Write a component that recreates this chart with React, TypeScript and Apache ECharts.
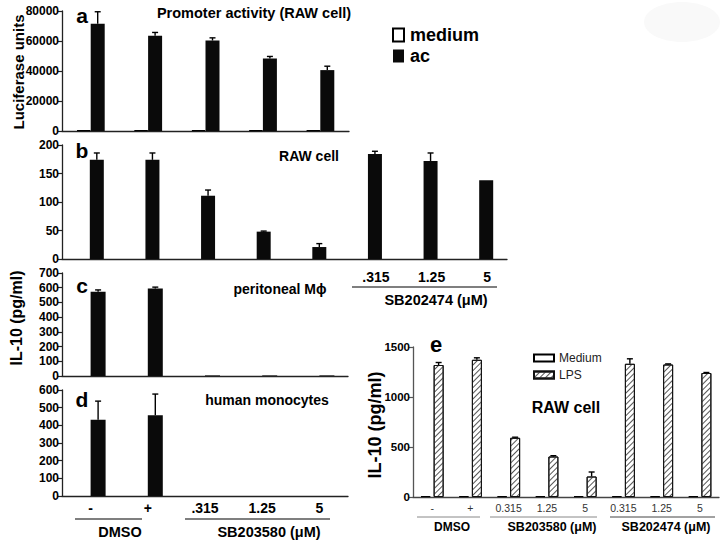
import React, { useEffect, useRef } from 'react';
import * as echarts from 'echarts';

const FONT = '"Liberation Sans", Arial, Helvetica, sans-serif';

// ---------- Panel a : promoter activity ----------
const aCategories = ['1', '2', '3', '4', '5'];
const aMedium = [600, 600, 600, 600, 600];
const aAc = [71500, 63500, 60300, 48400, 40600];
const aAcErr = [8000, 2200, 1800, 1300, 2600];

// ---------- Panel b : RAW cell ----------
const bCategories = ['', '', '', '', '', '.315', '1.25', '5'];
const bMedium = [0, 0, 0, 0, 0, 0, 0, 0];
const bAc = [174, 174, 111, 48, 21, 184, 172, 138];
const bAcErr = [12, 12, 10, 1, 6, 5, 14, 0];

// ---------- Panel c / d ----------
const cdCategories = ['-', '+', '.315', '1.25', '5'];
const cdMedium = [0, 0, 0, 0, 0];
const cAc = [573, 594, 4, 4, 4];
const cAcErr = [12, 10, 0, 0, 0];
const dAc = [432, 457, 0, 0, 0];
const dAcErr = [105, 120, 0, 0, 0];

// ---------- Panel e ----------
const eCategories = ['-', '+', '0.315', '1.25', '5', '0.315', '1.25', '5'];
const eMedium = [8, 8, 8, 8, 8, 8, 8, 8];
const eLps = [1320, 1372, 592, 405, 205, 1332, 1325, 1240];
const eLpsErr = [25, 20, 6, 8, 45, 50, 6, 5];

const txt = (text: string, x: number, y: number, font: string, extra: any = {}) => ({
  type: 'text',
  x,
  y,
  rotation: extra.rotation || 0,
  style: {
    text,
    font,
    fill: extra.fill || '#000',
    align: extra.align || 'center',
    verticalAlign: 'middle',
    textAlign: extra.align || 'center',
    textVerticalAlign: 'middle',
  },
  silent: true,
});

const hline = (x1: number, x2: number, y: number, color = '#000', w = 1.2) => ({
  type: 'line',
  shape: { x1, y1: y, x2, y2: y },
  style: { stroke: color, lineWidth: w },
  silent: true,
});

const errSeries = (xi: number, vals: number[], errs: number[], offset: number, cap: number) => ({
  type: 'custom',
  xAxisIndex: xi,
  yAxisIndex: xi,
  z: 5,
  data: vals.map((v, i) => [i, v, errs[i]]),
  encode: { x: 0, y: 1 },
  renderItem: (params: any, api: any) => {
    const i = api.value(0);
    const v = api.value(1);
    const e = api.value(2);
    if (!e) return null;
    const p0 = api.coord([i, v]);
    const p1 = api.coord([i, v + e]);
    const x = p0[0] + offset;
    return {
      type: 'group',
      children: [
        { type: 'line', shape: { x1: x, y1: p0[1], x2: x, y2: p1[1] }, style: { stroke: '#000', lineWidth: 1.4 } },
        { type: 'line', shape: { x1: x - cap, y1: p1[1], x2: x + cap, y2: p1[1] }, style: { stroke: '#000', lineWidth: 1.4 } },
      ],
    };
  },
});

const yAxisCfg = (gi: number, max: number, interval: number, fontSize: number, color = '#222') => ({
  type: 'value',
  gridIndex: gi,
  min: 0,
  max,
  interval,
  axisLine: { show: true, lineStyle: { color, width: 1.3 } },
  axisTick: { show: true, length: 4, lineStyle: { color, width: 1.2 } },
  splitLine: { show: false },
  axisLabel: {
    color: '#000',
    fontFamily: FONT,
    fontWeight: 'bold',
    fontSize,
    margin: 3,
    showMinLabel: true,
    showMaxLabel: true,
    formatter: (v: number) => String(v),
  },
});

const xAxisCfg = (gi: number, data: string[], label: any = { show: false }, color = '#222') => ({
  type: 'category',
  gridIndex: gi,
  data,
  axisLine: { show: true, lineStyle: { color, width: 1.3 } },
  axisTick: { show: false },
  splitLine: { show: false },
  axisLabel: label,
});

export default function App() {
  const ref = useRef<HTMLDivElement>(null);
  useEffect(() => {
    if (!ref.current) return;
    const chart = echarts.init(ref.current, null, { renderer: 'svg' });
    const black = { color: '#0a0a0a' };
    const whiteBox = { color: '#fff', borderColor: '#000', borderWidth: 1 };
    const hatch = {
      color: '#fff',
      borderColor: '#111',
      borderWidth: 1,
      decal: {
        symbol: 'rect',
        symbolSize: 1,
        dashArrayX: [[1, 0]],
        dashArrayY: [1, 3],
        rotation: -Math.PI / 4,
        color: '#555',
        backgroundColor: '#fff',
      },
    };
    const option: any = {
      animation: false,
      backgroundColor: '#fff',
      grid: [
        { left: 62, top: 11, width: 287, height: 120 },
        { left: 62, top: 145, width: 445, height: 114 },
        { left: 62, top: 273, width: 286, height: 103 },
        { left: 62, top: 390, width: 286, height: 106 },
        { left: 413, top: 347, width: 306, height: 150 },
      ],
      xAxis: [
        xAxisCfg(0, aCategories),
        xAxisCfg(1, bCategories, {
          show: true,
          interval: 0,
          color: '#000',
          fontFamily: FONT,
          fontWeight: 'bold',
          fontSize: 14,
          margin: 11,
          padding: [0, 0, 0, 16],
        }),
        xAxisCfg(2, cdCategories),
        xAxisCfg(3, cdCategories, {
          show: true,
          interval: 0,
          color: '#000',
          fontFamily: FONT,
          fontWeight: 'bold',
          fontSize: 14,
          margin: 5,
        }),
        xAxisCfg(4, eCategories, {
          show: true,
          interval: 0,
          color: '#333',
          fontFamily: FONT,
          fontSize: 10.5,
          margin: 5,
        }, '#444'),
      ],
      yAxis: [
        yAxisCfg(0, 80000, 20000, 12),
        yAxisCfg(1, 200, 50, 12),
        yAxisCfg(2, 700, 100, 12),
        yAxisCfg(3, 600, 100, 12),
        yAxisCfg(4, 1500, 500, 11.5, '#555'),
      ],
      legend: [
        {
          data: ['medium', 'ac'],
          orient: 'vertical',
          left: 392,
          top: 26,
          padding: 0,
          itemWidth: 11,
          itemHeight: 13,
          itemGap: 3,
          icon: 'rect',
          selectedMode: false,
          textStyle: { fontFamily: FONT, fontWeight: 'bold', fontSize: 18, color: '#000', padding: [0, 0, 0, 1] },
        },
        {
          data: ['Medium', 'LPS'],
          orient: 'vertical',
          left: 533,
          top: 352,
          padding: 0,
          itemWidth: 20,
          itemHeight: 7,
          itemGap: 5,
          icon: 'rect',
          selectedMode: false,
          textStyle: { fontFamily: FONT, fontSize: 12, color: '#222', padding: [0, 0, 0, 0] },
        },
      ],
      series: [
        // a
        { type: 'bar', name: 'medium', xAxisIndex: 0, yAxisIndex: 0, data: aMedium, barWidth: 14, barGap: '0%', itemStyle: whiteBox },
        { type: 'bar', name: 'ac', xAxisIndex: 0, yAxisIndex: 0, data: aAc, barWidth: 14, barGap: '0%', itemStyle: black },
        errSeries(0, aAc, aAcErr, 7, 3),
        // b
        { type: 'bar', name: 'b-medium', xAxisIndex: 1, yAxisIndex: 1, data: bMedium, barWidth: 14, barGap: '0%', itemStyle: { color: 'transparent' } },
        { type: 'bar', name: 'b-ac', xAxisIndex: 1, yAxisIndex: 1, data: bAc, barWidth: 14, barGap: '0%', itemStyle: black },
        errSeries(1, bAc, bAcErr, 7, 3),
        // c
        { type: 'bar', name: 'c-medium', xAxisIndex: 2, yAxisIndex: 2, data: cdMedium, barWidth: 15, barGap: '0%', itemStyle: { color: 'transparent' } },
        { type: 'bar', name: 'c-ac', xAxisIndex: 2, yAxisIndex: 2, data: cAc, barWidth: 15, barGap: '0%', itemStyle: black },
        errSeries(2, cAc, cAcErr, 7.5, 3),
        // d
        { type: 'bar', name: 'd-medium', xAxisIndex: 3, yAxisIndex: 3, data: cdMedium, barWidth: 15, barGap: '0%', itemStyle: { color: 'transparent' } },
        { type: 'bar', name: 'd-ac', xAxisIndex: 3, yAxisIndex: 3, data: dAc, barWidth: 15, barGap: '0%', itemStyle: black },
        errSeries(3, dAc, dAcErr, 7.5, 3),
        // e
        { type: 'bar', name: 'Medium', xAxisIndex: 4, yAxisIndex: 4, data: eMedium, barWidth: 10, barGap: '30%', itemStyle: whiteBox },
        { type: 'bar', name: 'LPS', xAxisIndex: 4, yAxisIndex: 4, data: eLps, barWidth: 10, barGap: '30%', itemStyle: hatch },
        errSeries(4, eLps, eLpsErr, 6.5, 3),
      ],
      graphic: [
        { type: 'ellipse', shape: { cx: 682, cy: 22, rx: 38, ry: 20 }, style: { fill: '#f9f9f9' }, silent: true, z: -10 },
        // panel letters
        txt('a', 82, 15, `bold 21px ${FONT}`),
        txt('b', 82, 150, `bold 21px ${FONT}`),
        txt('c', 82, 285, `bold 21px ${FONT}`),
        txt('d', 82, 399, `bold 21px ${FONT}`),
        txt('e', 436, 344, `bold 22px ${FONT}`),
        // titles
        txt('Promoter activity (RAW cell)', 254, 13, `bold 14.5px ${FONT}`),
        txt('RAW cell', 309, 156, `bold 14px ${FONT}`),
        txt('peritoneal M\u03d5', 280, 289, `bold 14px ${FONT}`),
        txt('human monocytes', 267, 400, `bold 14px ${FONT}`),
        txt('RAW cell', 566, 407, `bold 16px ${FONT}`),
        // axis titles
        txt('Luciferase units', 18, 72, `bold 15px ${FONT}`, { rotation: Math.PI / 2 }),
        txt('IL-10 (pg/ml)', 16, 318, `bold 16px ${FONT}`, { rotation: Math.PI / 2 }),
        txt('IL-10 (pg/ml)', 375, 425, `bold 18px ${FONT}`, { rotation: Math.PI / 2 }),
        // panel b group label
        hline(352, 497, 287),
        txt('SB202474 (\u03bcM)', 436, 300, `bold 14.5px ${FONT}`),
        // panel d group labels
        hline(75, 142, 519),
        hline(185, 330, 519),
        txt('DMSO', 120, 532, `bold 14.5px ${FONT}`),
        txt('SB203580 (\u03bcM)', 269, 532, `bold 14.5px ${FONT}`),
        // panel e group labels
        hline(417, 480, 517, '#888', 1),
        hline(490, 597, 517, '#888', 1),
        hline(610, 715, 517, '#444', 1),
        txt('DMSO', 452, 527, `bold 12px ${FONT}`),
        txt('SB203580 (\u03bcM)', 552, 527, `bold 12.5px ${FONT}`),
        txt('SB202474 (\u03bcM)', 666, 527, `bold 12.5px ${FONT}`),
      ],
    };
    chart.setOption(option);
    return () => chart.dispose();
  }, []);
  return <div ref={ref} style={{ position: 'fixed', left: 0, top: 0, width: 726, height: 546 }} />;
}
